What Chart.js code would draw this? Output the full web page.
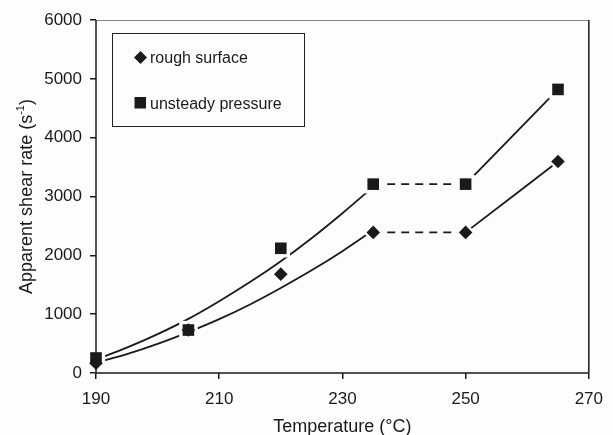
<!DOCTYPE html>
<html>
<head>
<meta charset="utf-8">
<script src="https://cdn.jsdelivr.net/npm/chart.js@4.4.0/dist/chart.umd.min.js"></script>
<style>
    html, body { margin: 0; padding: 0; background: #fdfdfd; }
    #wrap { width: 613px; height: 435px; }
</style>
</head>
<body>
<div id="wrap"><canvas id="myChart" width="613" height="435"></canvas></div>
<script>
// measured shear rate per temperature step
let temps = [190, 205, 220, 235, 250, 265];
let roughSurface = [165, 730, 1680, 2390, 2390, 3595];
let unsteadyPressure = [255, 730, 2120, 3210, 3210, 4820];

// fitted trend over the low temperature range, read every 5 °C
let trendTemps = [190, 195, 200, 205, 210, 215, 220, 225, 230, 235];
let roughTrend = [175, 320, 495, 695, 915, 1165, 1445, 1745, 2070, 2425];
let pressureTrend = [230, 430, 660, 920, 1220, 1545, 1900, 2290, 2715, 3165];

let xTicks = [190, 210, 230, 250, 270];
let yTicks = [0, 1000, 2000, 3000, 4000, 5000, 6000];

let seriesNames = ["rough surface", "unsteady pressure"];

const FONT = '"Liberation Sans", Arial, Helvetica, sans-serif';
const INK = "#1a1a1a";

function pts(xs, ys) {
    return xs.map((x, i) => ({ x: x, y: ys[i] }));
}

function lineSet(data, dashed) {
    return {
        data: data,
        showLine: true,
        borderColor: INK,
        borderWidth: 1.8,
        borderDash: dashed ? [8, 6] : [],
        pointRadius: 0,
        cubicInterpolationMode: "monotone",
        order: 3,
    };
}

function markerSet(data, style, radius, color, order) {
    return {
        data: data,
        showLine: false,
        pointStyle: style,
        pointRadius: radius,
        pointHoverRadius: radius,
        pointBackgroundColor: color,
        pointBorderWidth: 0,
        pointBorderColor: color,
        clip: false,
        order: order,
    };
}

let roughPts = pts(temps, roughSurface);
let pressurePts = pts(temps, unsteadyPressure);

let datasets = [
    // curves and connecting segments
    lineSet(pts(trendTemps, roughTrend), false),
    lineSet(pts(trendTemps, pressureTrend), false),
    lineSet(roughPts.slice(3, 5), true),
    lineSet(pressurePts.slice(3, 5), true),
    lineSet(roughPts.slice(4, 6), false),
    lineSet(pressurePts.slice(4, 6), false),
    // white knock-out behind the markers
    markerSet(roughPts, "rectRot", 10, "#fdfdfd", 2),
    markerSet(pressurePts, "rect", 13, "#fdfdfd", 2),
    // markers
    markerSet(roughPts, "rectRot", 6.8, INK, 1),
    markerSet(pressurePts, "rect", 8.2, INK, 1),
];

// frame, legend box and axis titles
let decorations = {
    id: "decorations",
    afterDatasetsDraw(chart) {
        let ctx = chart.ctx;
        let a = chart.chartArea;
        ctx.save();

        ctx.lineWidth = 1;
        ctx.strokeStyle = "#888";
        ctx.beginPath();
        ctx.moveTo(a.left, a.top + 0.5);
        ctx.lineTo(a.right, a.top + 0.5);
        ctx.stroke();
        ctx.strokeStyle = INK;
        ctx.lineWidth = 1.5;
        ctx.beginPath();
        ctx.moveTo(a.right, a.top);
        ctx.lineTo(a.right, a.bottom);
        ctx.moveTo(a.left, a.top);
        ctx.lineTo(a.left, a.bottom);
        ctx.lineTo(a.right, a.bottom);
        ctx.stroke();

        // legend
        ctx.lineWidth = 1;
        ctx.strokeStyle = "#222";
        ctx.fillStyle = "#fdfdfd";
        ctx.fillRect(112, 33, 192, 93);
        ctx.strokeRect(112.5, 33.5, 192, 93);

        ctx.fillStyle = INK;
        ctx.beginPath();
        ctx.moveTo(140.5, 51);
        ctx.lineTo(147, 57.5);
        ctx.lineTo(140.5, 64);
        ctx.lineTo(134, 57.5);
        ctx.closePath();
        ctx.fill();
        ctx.fillRect(134.5, 97, 11.5, 11.5);

        ctx.font = "16px " + FONT;
        ctx.textBaseline = "alphabetic";
        ctx.textAlign = "left";
        ctx.fillText(seriesNames[0], 150, 63);
        ctx.fillText(seriesNames[1], 150, 108.5);

        // x title
        ctx.font = "18px " + FONT;
        ctx.textAlign = "center";
        ctx.fillText("Temperature (°C)", (a.left + a.right) / 2, 432);

        // y title with superscript unit
        ctx.translate(26, (a.top + a.bottom) / 2);
        ctx.rotate(-Math.PI / 2);
        let main = "Apparent shear rate (s";
        let sup = "-1";
        let tail = ")";
        ctx.font = "18px " + FONT;
        let w1 = ctx.measureText(main).width;
        let w3 = ctx.measureText(tail).width;
        ctx.font = "11px " + FONT;
        let w2 = ctx.measureText(sup).width;
        let x0 = -(w1 + w2 + w3) / 2;
        ctx.textAlign = "left";
        ctx.font = "18px " + FONT;
        ctx.fillText(main, x0, 6);
        ctx.fillText(tail, x0 + w1 + w2, 6);
        ctx.font = "11px " + FONT;
        ctx.fillText(sup, x0 + w1, -2);

        ctx.restore();
    }
};

let ctx = document.getElementById("myChart").getContext("2d");
let myChart = new Chart(ctx, {
    type: "scatter",
    data: { datasets: datasets },
    options: {
        responsive: false,
        animation: false,
        events: [],
        layout: { padding: { top: 20, right: 15, left: 0, bottom: 0 } },
        plugins: {
            legend: { display: false },
            tooltip: { enabled: false },
        },
        scales: {
            x: {
                type: "linear",
                min: 190,
                max: 270,
                afterBuildTicks: (s) => { s.ticks = xTicks.map(v => ({ value: v })); },
                afterFit: (s) => { s.height = 62; },
                border: { display: false },
                grid: { drawOnChartArea: false, drawTicks: true, tickLength: 6, color: INK, lineWidth: 1.5 },
                ticks: { color: INK, padding: 10, maxRotation: 0, font: { family: FONT, size: 17 },
                         callback: (v) => String(v) },
            },
            y: {
                min: 0,
                max: 6000,
                afterBuildTicks: (s) => { s.ticks = yTicks.map(v => ({ value: v })); },
                afterFit: (s) => { s.width = 96; },
                border: { display: false },
                grid: { drawOnChartArea: false, drawTicks: true, tickLength: 6, color: INK, lineWidth: 1.5 },
                ticks: { color: INK, padding: 8, font: { family: FONT, size: 17 },
                         callback: (v) => String(v) },
            },
        },
    },
    plugins: [decorations],
});
</script>
</body>
</html>
